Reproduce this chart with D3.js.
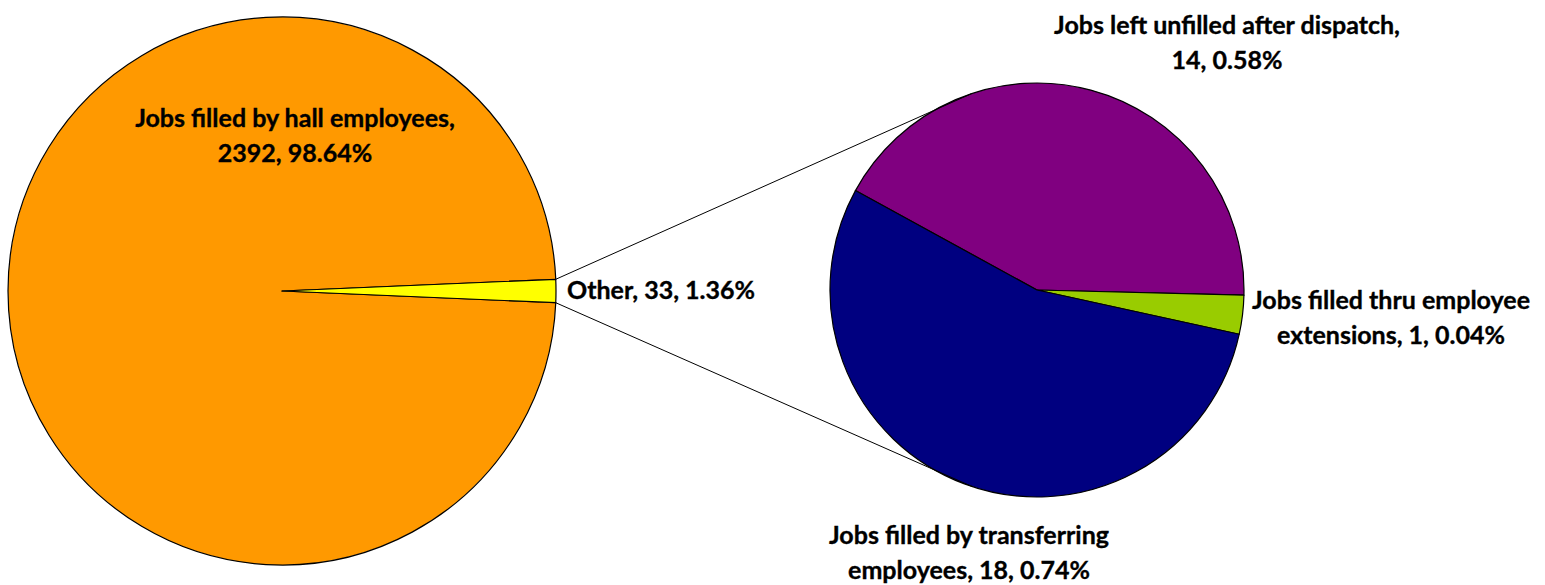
<!DOCTYPE html>
<html>
<head>
<meta charset="utf-8">
<script src="https://cdn.jsdelivr.net/npm/d3@7"></script>
<style>
  body { margin: 0; background: #fff; }
  text { font-family: Lato, "Open Sans", sans-serif; font-weight: bold; fill: #000; stroke: #000; stroke-width: 0.35px; }
</style>
</head>
<body>
<svg id="chart" width="1545" height="585"></svg>
<script>
// main pie
const mainLabels = ['Jobs filled by hall employees', 'Other'];
const mainValues = [2392, 33];
const mainPercents = ['98.64%', '1.36%'];
const mainColors = ['#ff9900', '#ffff00'];

// secondary pie (breakdown of "Other")
const subLabels = ['Jobs left unfilled after dispatch', 'Jobs filled thru employee extensions', 'Jobs filled by transferring employees'];
const subValues = [14, 1, 18];
const subPercents = ['0.58%', '0.04%', '0.74%'];
const subColors = ['#800080', '#99cc00', '#000080'];

const svg = d3.select('#chart');

const mainC = {x: 282, y: 291, r: 274};
const subC = {x: 1037, y: 290, r: 207};

// main pie: "Other" centred on 3 o'clock
const otherShare = mainValues[1] / d3.sum(mainValues) * 2 * Math.PI;
const mainPie = d3.pie().sort(null)
    .startAngle(Math.PI / 2 + otherShare / 2)
    .endAngle(Math.PI / 2 + otherShare / 2 + 2 * Math.PI);
const mainArcs = mainPie(mainValues);
const mainArc = d3.arc().innerRadius(0).outerRadius(mainC.r);

let mainG = svg.append('g').attr('transform', 'translate(' + mainC.x + ',' + mainC.y + ')');
mainG.selectAll('path').data(mainArcs).enter().append('path')
    .attr('d', mainArc)
    .attr('fill', (d, i) => mainColors[i])
    .attr('stroke', '#000').attr('stroke-width', 1.2).attr('stroke-linejoin', 'round');

// secondary pie
const subStart = -61.3 * Math.PI / 180;
const subPie = d3.pie().sort(null).startAngle(subStart).endAngle(subStart + 2 * Math.PI);
const subArcs = subPie(subValues);
const subArc = d3.arc().innerRadius(0).outerRadius(subC.r);

let subG = svg.append('g').attr('transform', 'translate(' + subC.x + ',' + subC.y + ')');
subG.selectAll('path').data(subArcs).enter().append('path')
    .attr('d', subArc)
    .attr('fill', (d, i) => subColors[i])
    .attr('stroke', '#000').attr('stroke-width', 1.2).attr('stroke-linejoin', 'round');

// connector lines: from the edges of "Other" to the secondary pie
const o = mainArcs[1];
function polar(c, r, a){ return [c.x + r * Math.sin(a), c.y - r * Math.cos(a)]; }
const p1 = polar(mainC, mainC.r, o.startAngle);
const p2 = polar(mainC, mainC.r, o.endAngle);
function tangent(p, upper){
    let dx = p[0] - subC.x, dy = p[1] - subC.y;
    let d = Math.sqrt(dx * dx + dy * dy);
    let base = Math.atan2(dy, dx);
    let t = Math.acos(subC.r / d) + 0.1;
    let a = upper ? base + t : base - t;
    return [subC.x + subC.r * Math.cos(a), subC.y + subC.r * Math.sin(a)];
}
const q1 = tangent(p1, true);
const q2 = tangent(p2, false);
svg.append('line').attr('x1', p1[0]).attr('y1', p1[1]).attr('x2', q1[0]).attr('y2', q1[1])
    .attr('stroke', '#000').attr('stroke-width', 1);
svg.append('line').attr('x1', p2[0]).attr('y1', p2[1]).attr('x2', q2[0]).attr('y2', q2[1])
    .attr('stroke', '#000').attr('stroke-width', 1);

// labels
const fontSize = 25;
function label(x, y, lines, anchor){
    let t = svg.append('text').attr('x', x).attr('y', y)
        .attr('text-anchor', anchor || 'middle').style('font-size', fontSize + 'px');
    lines.forEach((l, i) => {
        t.append('tspan').attr('x', x).attr('dy', i === 0 ? 0 : 35).text(l);
    });
}
label(295, 127, [mainLabels[0] + ',', mainValues[0] + ', ' + mainPercents[0]]);
label(567, 299, [mainLabels[1] + ', ' + mainValues[1] + ', ' + mainPercents[1]], 'start');
label(1227, 34, [subLabels[0] + ',', subValues[0] + ', ' + subPercents[0]]);
label(1391, 309, ['Jobs filled thru employee', 'extensions, ' + subValues[1] + ', ' + subPercents[1]]);
label(969, 544, ['Jobs filled by transferring', 'employees, ' + subValues[2] + ', ' + subPercents[2]]);
</script>
</body>
</html>
